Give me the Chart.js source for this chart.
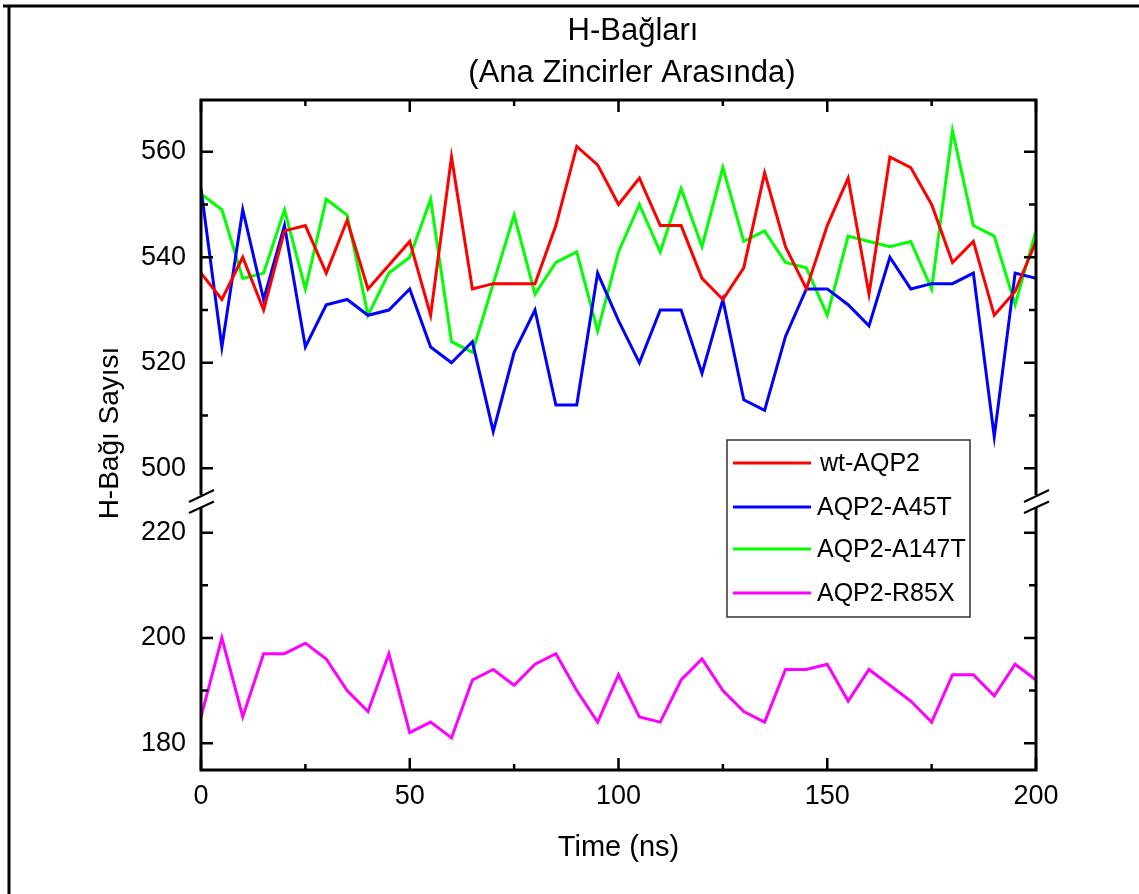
<!DOCTYPE html>
<html><head><meta charset="utf-8">
<script src="https://cdn.jsdelivr.net/npm/chart.js@4"></script>
<style>html,body{margin:0;padding:0;background:#fff}#wrap{width:1139px;height:894px}</style>
</head><body><div id="wrap"><canvas id="c" width="1139" height="894"></canvas></div>
<script>
const FONT = "'Liberation Sans', Arial, Helvetica, sans-serif";

const timeNs = [0,5,10,15,20,25,30,35,40,45,50,55,60,65,70,75,80,85,90,95,100,
                105,110,115,120,125,130,135,140,145,150,155,160,165,170,175,180,185,190,195,200];

const wtAQP2 = [537,532,540,530,545,546,537,547,534,538.5,543,529,559,534,535,535,535,546,561,557.5,550,
                555,546,546,536,532,538,556,542,534,546,555,533,559,557,550,539,543,529,533.5,543];
const aqp2A45T = [553,523,549,532,546,523,531,532,529,530,534,523,520,524,507,522,530,512,512,537,528,
                  520,530,530,518,532,513,511,525,534,534,531,527,540,534,535,535,537,506,537,536];
const aqp2A147T = [552,549,536,537,549,534,551,548,529,537,540,551,524,522,535,548,533,539,541,526,541,
                   550,541,553,542,557,543,545,539,538,529,544,543,542,543,534,564,546,544,531,545];
const aqp2R85X = [185,200,185,197,197,199,196,190,186,197,182,184,181,192,194,191,195,197,190,184,193,
                  185,184,192,196,190,186,184,194,194,195,188,194,191,188,184,193,193,189,195,192];

const seriesNames = ['wt-AQP2','AQP2-A45T','AQP2-A147T','AQP2-R85X'];
const upperTicks = [500,520,540,560];
const upperMinor = [510,530,550];
const lowerTicks = [180,200,220];
const lowerMinor = [190,210];
const xTicks = [0,50,100,150,200];
const xMinor = [25,75,125,175];

const titleLines = ['H-Bağları','(Ana Zincirler Arasında)'];
const yTitle = 'H-Bağı Sayısı';
const xTitle = 'Time (ns)';

function pts(arr){ return arr.map((v,i)=>({x: timeNs[i], y: v})); }

const decor = {
  id: 'decor',
  afterDraw(chart) {
    const ctx = chart.ctx;
    const {left, right, top, bottom} = chart.chartArea;
    const xs = chart.scales.x, yu = chart.scales.yUp, yl = chart.scales.yLow;
    const brk = yu.bottom;
    ctx.save();
    // outer frame
    ctx.strokeStyle = '#000'; ctx.lineWidth = 3;
    ctx.beginPath(); ctx.moveTo(3, 6); ctx.lineTo(1139, 6); ctx.stroke();
    ctx.beginPath(); ctx.moveTo(9, 5); ctx.lineTo(9, 894); ctx.stroke();
    // plot frame
    ctx.lineWidth = 3;
    ctx.strokeRect(left, top, right - left, bottom - top);
    // ticks
    ctx.lineWidth = 2.5;
    const hTick = (scale, vals, len) => vals.forEach(v => {
      const y = scale.getPixelForValue(v);
      ctx.beginPath(); ctx.moveTo(left, y); ctx.lineTo(left + len, y);
      ctx.moveTo(right, y); ctx.lineTo(right - len, y); ctx.stroke();
    });
    hTick(yu, upperTicks, 12); hTick(yu, upperMinor, 7);
    hTick(yl, lowerTicks, 12); hTick(yl, lowerMinor, 7);
    const vTick = (vals, len) => vals.forEach(v => {
      const x = xs.getPixelForValue(v);
      ctx.beginPath(); ctx.moveTo(x, bottom); ctx.lineTo(x, bottom - len);
      ctx.moveTo(x, top); ctx.lineTo(x, top + len); ctx.stroke();
    });
    vTick(xTicks, 12); vTick(xMinor, 6);
    // axis break
    [left, right].forEach(ax => {
      ctx.fillStyle = '#fff';
      ctx.fillRect(ax - 3, brk - 5, 6, 12);
      ctx.strokeStyle = '#000'; ctx.lineWidth = 2;
      ctx.beginPath();
      ctx.moveTo(ax - 12, brk + 2); ctx.lineTo(ax + 13, brk - 10);
      ctx.moveTo(ax - 12, brk + 13); ctx.lineTo(ax + 13, brk + 1.5);
      ctx.stroke();
    });
    // titles
    ctx.fillStyle = '#000';
    ctx.textAlign = 'center'; ctx.textBaseline = 'middle';
    ctx.font = '31px ' + FONT;
    ctx.fillText(titleLines[0], 633, 31);
    ctx.fillText(titleLines[1], 632, 73);
    ctx.save();
    ctx.translate(110, 433); ctx.rotate(-Math.PI/2);
    ctx.font = '28px ' + FONT;
    ctx.fillText(yTitle, 0, 0);
    ctx.restore();
    // legend
    const lx = 727, ly = 440, lw = 243, lh = 177;
    ctx.fillStyle = '#fff'; ctx.fillRect(lx, ly, lw, lh);
    ctx.strokeStyle = '#333'; ctx.lineWidth = 1.5;
    ctx.strokeRect(lx, ly, lw, lh);
    const rows = [463, 507, 549, 593];
    ctx.font = '25px ' + FONT; ctx.textAlign = 'left';
    chart.data.datasets.forEach((ds, i) => {
      ctx.strokeStyle = ds.borderColor; ctx.lineWidth = 3;
      ctx.beginPath(); ctx.moveTo(733, rows[i]); ctx.lineTo(811, rows[i]); ctx.stroke();
      ctx.fillStyle = '#000';
      ctx.fillText(ds.label, i === 0 ? 820 : 817, rows[i] + 1);
    });
    ctx.restore();
  }
};

const mkY = (min, max, weight, ticks) => ({
  type: 'linear', position: 'left', stack: 'ys', stackWeight: weight,
  min: min, max: max,
  afterBuildTicks: s => { s.ticks = ticks.map(v => ({value: v})); },
  afterFit: s => { s.width = 201; },
  ticks: { font: {family: FONT, size: 27}, color: '#000', padding: 15 },
  grid: { display: false, drawTicks: false },
  border: { display: false }
});

new Chart(document.getElementById('c'), {
  type: 'line',
  data: {
    datasets: [
      { label: seriesNames[0], data: pts(wtAQP2), borderColor: '#ff0000', yAxisID: 'yUp' },
      { label: seriesNames[1], data: pts(aqp2A45T), borderColor: '#0000ff', yAxisID: 'yUp' },
      { label: seriesNames[2], data: pts(aqp2A147T), borderColor: '#00ff00', yAxisID: 'yUp' },
      { label: seriesNames[3], data: pts(aqp2R85X), borderColor: '#ff00ff', yAxisID: 'yLow' }
    ]
  },
  options: {
    responsive: false, animation: false, devicePixelRatio: 1,
    elements: { point: { radius: 0 }, line: { borderWidth: 3, tension: 0, fill: false } },
    layout: { padding: { top: 100, left: 0, right: 103, bottom: 0 } },
    plugins: { legend: { display: false }, title: { display: false }, tooltip: { enabled: false } },
    scales: {
      x: {
        type: 'linear', position: 'bottom', min: 0, max: 200,
        afterBuildTicks: s => { s.ticks = xTicks.map(v => ({value: v})); },
        afterFit: s => { s.height = 124; },
        ticks: { font: {family: FONT, size: 27}, color: '#000', padding: 10, maxRotation: 0, autoSkip: false },
        grid: { display: false, drawTicks: false },
        border: { display: false },
        title: { display: true, text: xTitle, color: '#000', font: {family: FONT, size: 29}, padding: {top: 0, bottom: 28.6} }
      },
      yLow: mkY(174.9, 226.2, 270, lowerTicks),
      yUp: mkY(494, 569.8, 400, upperTicks)
    }
  },
  plugins: [decor]
});
</script>
</body></html>
